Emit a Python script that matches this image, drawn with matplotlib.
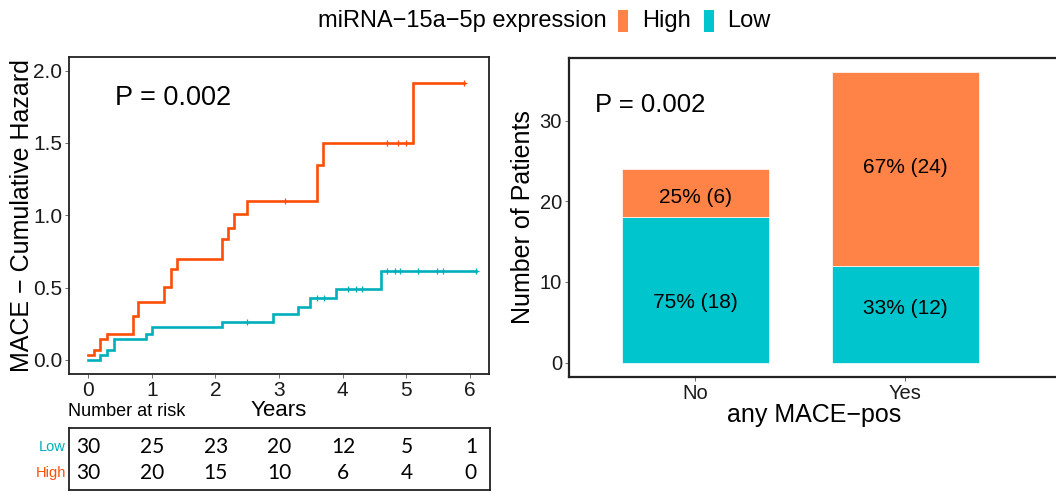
import matplotlib
matplotlib.use("Agg")
import matplotlib.pyplot as plt
from matplotlib.patches import Rectangle

plt.rcParams['font.family'] = ['Liberation Sans', 'DejaVu Sans']

# ---------------- data ----------------
high_times = [0, 0.09, 0.19, 0.3, 0.7, 0.78, 1.2, 1.3, 1.4, 2.1, 2.2, 2.3, 2.5, 3.59, 3.69, 5.1, 5.9]
high_haz = [0.033, 0.069, 0.143, 0.18, 0.306, 0.403, 0.507, 0.629, 0.696, 0.836, 0.915, 1.007,
            1.099, 1.348, 1.502, 1.912, 1.912]
high_cens_t = [3.10, 4.69, 4.87, 5.0, 5.9]
high_cens_h = [1.099, 1.502, 1.502, 1.502, 1.912]

low_times = [0, 0.19, 0.3, 0.4, 0.91, 1.0, 2.1, 2.9, 3.3, 3.49, 3.9, 4.6, 6.1]
low_haz = [0.0, 0.035, 0.069, 0.143, 0.18, 0.23, 0.265, 0.316, 0.369, 0.426, 0.491, 0.613, 0.613]
low_cens_t = [2.49, 3.59, 3.70, 4.09, 4.21, 4.30, 4.69, 4.82, 4.90, 5.19, 5.48, 5.58, 6.1]
low_cens_h = [0.265, 0.426, 0.426, 0.491, 0.491, 0.491, 0.613, 0.613, 0.613, 0.613, 0.613, 0.613, 0.613]

risk_years = [0, 1, 2, 3, 4, 5, 6]
risk_low = [30, 25, 23, 20, 12, 5, 1]
risk_high = [30, 20, 15, 10, 6, 4, 0]

bar_cats = ["No", "Yes"]
bar_low = [18, 12]
bar_high = [6, 24]
bar_low_labels = ["75% (18)", "33% (12)"]
bar_high_labels = ["25% (6)", "67% (24)"]
bar_low_label_y = [7.5, 6.7]
bar_high_label_y = [20.5, 24.2]

p_text = "P = 0.002"

# ---------------- styles ----------------
LINE_HIGH = "#FC4E07"
LINE_LOW = "#00AFBB"
BAR_HIGH = "#FF8247"
BAR_LOW = "#00C5CD"

W, H = 1056, 492
fig = plt.figure(figsize=(W / 100, H / 100), dpi=100)


def fx(px):
    return px / W


def fy(py):
    return 1 - py / H


# ---------------- KM panel ----------------
ax = fig.add_axes([fx(69), fy(374), fx(489) - fx(69), fy(57) - fy(374)])
ax.step(high_times, high_haz, where='post', color=LINE_HIGH, lw=1.9, solid_joinstyle='miter')
ax.step(low_times, low_haz, where='post', color=LINE_LOW, lw=1.9, solid_joinstyle='miter')
ax.plot(high_cens_t, high_cens_h, '+', color=LINE_HIGH, ms=4, mew=0.9)
ax.plot(low_cens_t, low_cens_h, '+', color=LINE_LOW, ms=4, mew=0.9)
ax.set_xlim(-0.3, 6.3)
ax.set_ylim(-0.097, 2.094)
ax.set_xticks(risk_years)
ax.set_yticks([0, 0.5, 1.0, 1.5, 2.0])
ax.set_yticklabels([f"{v:.1f}" for v in [0, 0.5, 1.0, 1.5, 2.0]])
ax.tick_params(labelsize=15, length=3, width=0.6, color="#555555", pad=2, labelcolor="#1a1a1a")
for s in ax.spines.values():
    s.set_linewidth(1.3)
    s.set_color("#222222")
ax.set_ylabel("MACE \u2212 Cumulative Hazard", fontsize=18)
ax.yaxis.set_label_coords(-0.083, 0.5)
ax.set_xlabel("Years", fontsize=16, labelpad=0)
ax.text(0.11, 0.871, p_text, transform=ax.transAxes, fontsize=19.5, va='center', ha='left')

fig.text(fx(68), fy(412), "Number at risk", fontsize=13, ha='left', va='center')

# ---------------- risk table ----------------
rt = fig.add_axes([fx(69), fy(490), fx(490) - fx(69), fy(428) - fy(490)])
rt.set_xlim(-0.3, 6.3)
rt.set_ylim(0, 1)
rt.set_xticks([])
rt.set_yticks([])
for s in rt.spines.values():
    s.set_linewidth(1.3)
    s.set_color("#222222")
for x, lo, hi in zip(risk_years, risk_low, risk_high):
    rt.text(x, 0.69, str(lo), fontsize=15, family=['Lato', 'DejaVu Sans'], ha='center', va='center')
    rt.text(x, 0.27, str(hi), fontsize=15, family=['Lato', 'DejaVu Sans'], ha='center', va='center')
fig.text(fx(66), fy(447), "Low", color=LINE_LOW, fontsize=10.5, ha='right', va='center')
fig.text(fx(66), fy(473), "High", color=LINE_HIGH, fontsize=10.5, ha='right', va='center')

# ---------------- bar panel ----------------
bx = fig.add_axes([fx(569), fy(377), fx(1060) - fx(569), fy(58) - fy(377)])
xpos = list(range(1, len(bar_cats) + 1))
bx.bar(xpos, bar_low, width=0.7, color=BAR_LOW, edgecolor='white', linewidth=0.5)
bx.bar(xpos, bar_high, bottom=bar_low, width=0.7, color=BAR_HIGH, edgecolor='white', linewidth=0.5)
for x, lab, y in zip(xpos, bar_low_labels, bar_low_label_y):
    bx.text(x, y, lab, fontsize=15, ha='center', va='center')
for x, lab, y in zip(xpos, bar_high_labels, bar_high_label_y):
    bx.text(x, y, lab, fontsize=15, ha='center', va='center')
bx.set_xlim(0.4, 2.738)
bx.set_ylim(-1.8, 37.8)
bx.set_xticks(xpos)
bx.set_xticklabels(bar_cats)
bx.set_yticks([0, 10, 20, 30])
bx.tick_params(labelsize=14.5, length=3, width=0.6, color="#555555", pad=2, labelcolor="#1a1a1a")
for s in bx.spines.values():
    s.set_linewidth(1.6)
    s.set_color("#222222")
bx.set_ylabel("Number of Patients", fontsize=18)
bx.yaxis.set_label_coords(-0.07, 0.5)
bx.set_xlabel("any MACE\u2212pos", fontsize=18, labelpad=0)
bx.text(0.053, 0.853, p_text, transform=bx.transAxes, fontsize=18.5, va='center', ha='left')

# ---------------- legend ----------------
fig.text(fx(318), fy(21), "miRNA\u221215a\u22125p expression", fontsize=17, ha='left', va='center')
fig.patches.append(Rectangle((fx(618), fy(32)), fx(10), 22 / H, transform=fig.transFigure,
                             facecolor=BAR_HIGH, edgecolor='none'))
fig.text(fx(642), fy(21), "High", fontsize=17, ha='left', va='center')
fig.patches.append(Rectangle((fx(704), fy(32)), fx(10), 22 / H, transform=fig.transFigure,
                             facecolor=BAR_LOW, edgecolor='none'))
fig.text(fx(727), fy(21), "Low", fontsize=17, ha='left', va='center')

fig.savefig("out.png", dpi=100)
